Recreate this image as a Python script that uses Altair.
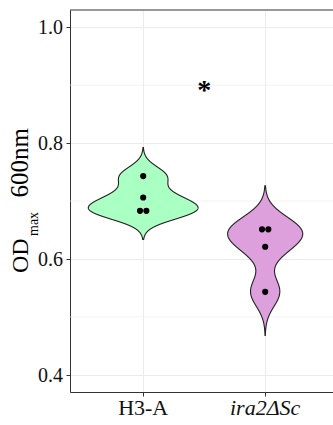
import altair as alt
import numpy as np
import pandas as pd

# Strains and the measured maximal OD600 of each replicate culture
STRAINS = ["H3-A", "ira2\u0394Sc"]
OD_H3A = [0.743, 0.706, 0.683, 0.683]
OD_IRA2 = [0.651, 0.651, 0.621, 0.543]
FILLS = ["#AAFFC3", "#DDA0DD"]

# Axis breaks
Y_TICKS = [0.4, 0.6, 0.8, 1.0]
Y_MINOR = [0.5, 0.7, 0.9]

# Significance marker between the two strains
SIG_LABEL = ["*"]
SIG_X = [0.5]
SIG_Y = [0.9]

# Axis title pieces: OD with subscript "max", then wavelength
TITLE_MAIN = ["OD"]
TITLE_SUB = ["max"]
TITLE_WAVE = ["600nm"]

FONT = "Liberation Serif"
INK = "#111111"
LINE = "#333333"
GRID = "#ebebeb"

PLOT_W, PLOT_H = 263, 382
X_DOMAIN = [-0.6, 1.556]
Y_DOMAIN = [0.37, 1.03]
DOT_STEP = 0.052  # horizontal spacing of tied dots, in category units


def bw_nrd0(values):
    """Silverman's rule of thumb (same as R's bw.nrd0)."""
    v = np.asarray(values, dtype=float)
    sd = v.std(ddof=1)
    q75, q25 = np.percentile(v, [75, 25])
    spread = min(sd, (q75 - q25) / 1.34)
    return 0.9 * spread * len(v) ** -0.2


rows = []
for i, (name, vals) in enumerate(zip(STRAINS, [OD_H3A, OD_IRA2])):
    bw = bw_nrd0(vals)
    for v in vals:
        rows.append(dict(strain=name, idx=i, od=v, bw=bw,
                         lo=min(vals) - 3 * bw, hi=max(vals) + 3 * bw))
obs = pd.DataFrame(rows)

# Density is estimated on od / bw so one unit bandwidth serves every group
u_lo = float((obs.lo / obs.bw).min()) - 1
u_hi = float((obs.hi / obs.bw).max()) + 1

xscale = alt.Scale(domain=X_DOMAIN, nice=False, zero=False)
yscale = alt.Scale(domain=Y_DOMAIN, nice=False, zero=False)

# Axes carry ticks, grid and frame; their labels are drawn as serif text below
xaxis = alt.Axis(values=[0, 1], labels=False, title=None, grid=True)
yaxis = alt.Axis(values=Y_TICKS, labels=False, title=None, grid=True)


def X(field):
    return alt.X(f"{field}:Q", scale=xscale, axis=xaxis)


def Y(field):
    return alt.Y(f"{field}:Q", scale=yscale, axis=yaxis)


minor = alt.Chart(pd.DataFrame({"m": Y_MINOR})).mark_rule(
    color=GRID, strokeWidth=0.6
).encode(y=Y("m"))

violin = (
    alt.Chart(obs)
    .transform_calculate(u="datum.od / datum.bw")
    .transform_density("u", groupby=["strain", "idx", "bw", "lo", "hi"],
                       bandwidth=1, extent=[u_lo, u_hi], steps=3000)
    .transform_calculate(y="datum.value * datum.bw",
                         d="datum.density / datum.bw")
    .transform_filter("datum.y >= datum.lo && datum.y <= datum.hi")
    .transform_joinaggregate(dmax="max(d)")
    .transform_calculate(xl="datum.idx - 0.45 * datum.d / datum.dmax",
                         xr="datum.idx + 0.45 * datum.d / datum.dmax")
    .mark_area(orient="horizontal", stroke="#222222", strokeWidth=1.1, opacity=1)
    .encode(
        y=Y("y"),
        x=X("xl"),
        x2="xr:Q",
        color=alt.Color("strain:N", scale=alt.Scale(domain=STRAINS, range=FILLS),
                        legend=None),
    )
)

dots = (
    alt.Chart(obs)
    .transform_window(rank="row_number()", groupby=["strain", "od"])
    .transform_joinaggregate(cnt="count()", groupby=["strain", "od"])
    .transform_calculate(xd=f"datum.idx + (datum.rank - (datum.cnt + 1) / 2) * {DOT_STEP}")
    .mark_circle(size=38, color="black", opacity=1)
    .encode(x=X("xd"), y=Y("od"))
)

sig = alt.Chart(pd.DataFrame({"t": SIG_LABEL, "x": SIG_X, "y": SIG_Y})).mark_text(
    font=FONT, fontSize=28, fontWeight="bold", color="black", baseline="middle", dy=6
).encode(x=X("x"), y=Y("y"), text="t:N")

# Tick labels
ylabels = alt.Chart(pd.DataFrame({"v": Y_TICKS})).mark_text(
    font=FONT, fontSize=20, color=INK, align="right", baseline="alphabetic", dy=7
).encode(y=Y("v"), x=alt.value(-7), text=alt.Text("v:Q", format=".1f"))

strain_df = pd.DataFrame({"name": STRAINS, "idx": range(len(STRAINS))})


def xlabel(style, test):
    return alt.Chart(strain_df).transform_filter(test).mark_text(
        font=FONT, fontSize=22, fontStyle=style, color=INK,
        align="center", baseline="alphabetic",
    ).encode(x=X("idx"), y=alt.value(PLOT_H + 23), text="name:N")


xlabel_plain = xlabel("normal", "datum.idx == 0")
xlabel_ital = xlabel("italic", "datum.idx == 1")


def title_piece(values, size, x, y, align):
    return alt.Chart(pd.DataFrame({"t": values})).mark_text(
        font=FONT, fontSize=size, color="black", angle=270,
        align=align, baseline="alphabetic",
    ).encode(text="t:N", x=alt.value(x), y=alt.value(y))


title_od = title_piece(TITLE_MAIN, 24, -42, 263, "left")
title_max = title_piece(TITLE_SUB, 14, -32, 226, "left")
title_nm = title_piece(TITLE_WAVE, 25, -42, 118, "right")

top_border = alt.Chart(pd.DataFrame({"b": [0]})).mark_rule(
    color=LINE, strokeWidth=1
).encode(x=alt.value(0), x2=alt.value(PLOT_W), y=alt.value(0))

chart = (
    alt.layer(minor, violin, dots, sig, ylabels, xlabel_plain, xlabel_ital,
              title_od, title_max, title_nm, top_border)
    .properties(
        width=PLOT_W, height=PLOT_H,
        padding={"left": 70, "top": 10, "right": 0, "bottom": 33},
        autosize=alt.AutoSizeParams(type="none"),
        background="white",
    )
    .configure(font=FONT)
    .configure_axis(
        gridColor=GRID, gridWidth=1,
        tickSize=4, tickColor=LINE, tickWidth=1,
        domainColor=LINE, domainWidth=1,
    )
    .configure_view(stroke=None)
)

chart.save("out.html", embed_options={"renderer": "svg", "actions": False})
